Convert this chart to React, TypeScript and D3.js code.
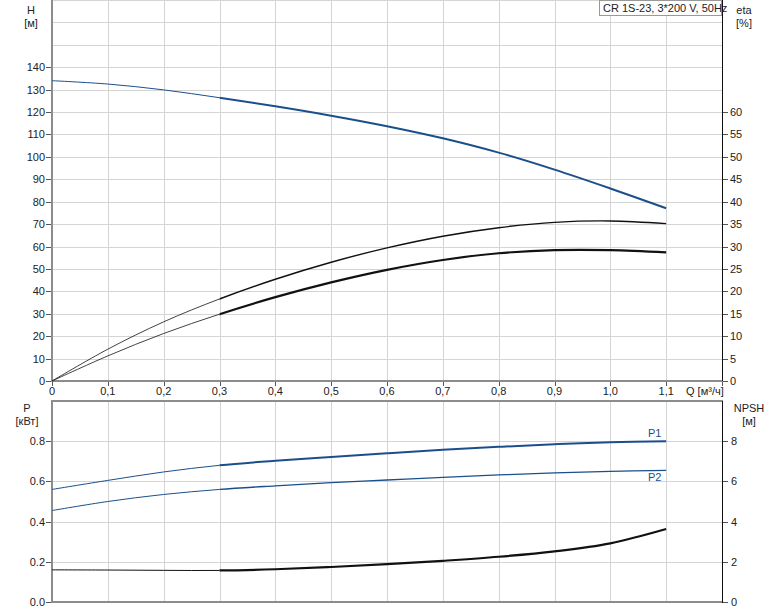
import React from 'react';
import * as d3 from 'd3';

// flow points (m³/h)
const qValues = [0, 0.1, 0.2, 0.3, 0.4, 0.5, 0.6, 0.7, 0.8, 0.9, 1.0, 1.1];
// head H [m]
const headValues = [134, 132.5, 129.9, 126.4, 122.6, 118.4, 113.7, 108.3, 101.9, 94.3, 85.9, 77.1];
// efficiencies [%]
const etaPumpValues = [0, 7.1, 13.2, 18.3, 22.7, 26.5, 29.7, 32.3, 34.2, 35.4, 35.7, 35.1];
const etaTotalValues = [0, 5.6, 10.6, 14.9, 18.7, 22.0, 24.8, 27.0, 28.5, 29.2, 29.2, 28.7];
// power [kW]
const p1Values = [0.56, 0.605, 0.647, 0.68, 0.703, 0.722, 0.74, 0.757, 0.772, 0.785, 0.795, 0.8];
const p2Values = [0.455, 0.5, 0.535, 0.56, 0.578, 0.594, 0.607, 0.62, 0.632, 0.642, 0.65, 0.655];
// NPSH [m]
const npshValues = [1.6, 1.59, 1.575, 1.57, 1.63, 1.74, 1.88, 2.05, 2.25, 2.52, 2.92, 3.63];

const xTicks = [0, 0.1, 0.2, 0.3, 0.4, 0.5, 0.6, 0.7, 0.8, 0.9, 1.0, 1.1];
const xTickLabels = ['0', '0,1', '0,2', '0,3', '0,4', '0,5', '0,6', '0,7', '0,8', '0,9', '1,0', '1,1'];
const hTicks = [0, 10, 20, 30, 40, 50, 60, 70, 80, 90, 100, 110, 120, 130, 140];
const hGrid = [10, 20, 30, 40, 50, 60, 70, 80, 90, 100, 110, 120, 130, 140, 150, 160, 170];
const etaTicks = [0, 5, 10, 15, 20, 25, 30, 35, 40, 45, 50, 55, 60];
const pTicks = [0, 0.2, 0.4, 0.6, 0.8];
const pTickLabels = ['0.0', '0.2', '0.4', '0.6', '0.8'];
const npshTicks = [0, 2, 4, 6, 8];

const BLUE = '#1b4f8b';
const FONT = '"Liberation Sans", Arial, sans-serif';
const Q_SPLIT = 0.3; // thin line left of this flow, thick line right of it

const x = d3.scaleLinear().domain([0, 1.2]).range([52, 722]);
const yH = d3.scaleLinear().domain([0, 170]).range([381, 0]);
const yEta = d3.scaleLinear().domain([0, 85]).range([381, 0]);
const yP = d3.scaleLinear().domain([0, 1.0]).range([602, 401]);
const yN = d3.scaleLinear().domain([0, 10]).range([602, 401]);

type Pt = [number, number];

function Curve({ vals, y, color, thin, thick }: { vals: number[]; y: d3.ScaleLinear<number, number>; color: string; thin: number; thick: number }) {
  const gen = d3.line<Pt>().x(d => x(d[0])).y(d => y(d[1])).curve(d3.curveCatmullRom.alpha(0.5));
  const d = gen(qValues.map((q, i) => [q, vals[i]] as Pt)) || '';
  return (
    <g fill="none" stroke={color} strokeLinejoin="round">
      <path d={d} strokeWidth={thin} clipPath="url(#clipLeft)" />
      <path d={d} strokeWidth={thick} clipPath="url(#clipRight)" />
    </g>
  );
}

export default function App() {
  const txt = { fontFamily: FONT, fontSize: 11, fill: '#222' } as const;
  const xs = x(Q_SPLIT);
  return (
    <svg width={774} height={611} style={{ position: 'absolute', left: 0, top: 0, background: '#fff' }}>
      <defs>
        <clipPath id="clipLeft"><rect x={0} y={0} width={xs} height={611} /></clipPath>
        <clipPath id="clipRight"><rect x={xs} y={0} width={774 - xs} height={611} /></clipPath>
      </defs>
      {/* ---- top panel grid ---- */}
      <g stroke="#d4d4d4" strokeWidth={1}>
        {hGrid.map(v => (
          <line key={'hg' + v} x1={52} x2={722} y1={Math.round(yH(v)) + 0.5} y2={Math.round(yH(v)) + 0.5} />
        ))}
        {xTicks.slice(1).concat([1.2]).map(v => (
          <line key={'vg' + v} x1={Math.round(x(v)) + 0.5} x2={Math.round(x(v)) + 0.5} y1={0} y2={381} />
        ))}
      </g>
      {/* ---- bottom panel grid ---- */}
      <g stroke="#d4d4d4" strokeWidth={1}>
        {pTicks.slice(1).map(v => (
          <line key={'pg' + v} x1={52} x2={722} y1={Math.round(yP(v)) + 0.5} y2={Math.round(yP(v)) + 0.5} />
        ))}
        {xTicks.slice(1).map(v => (
          <line key={'vg2' + v} x1={Math.round(x(v)) + 0.5} x2={Math.round(x(v)) + 0.5} y1={401} y2={602} />
        ))}
      </g>

      {/* ---- top axes ---- */}
      <line x1={52} x2={52} y1={0} y2={382} stroke="#8c8c8c" strokeWidth={2} />
      <line x1={51} x2={723} y1={381} y2={381} stroke="#8c8c8c" strokeWidth={2} />
      <line x1={722.5} x2={722.5} y1={0} y2={381} stroke="#111" strokeWidth={1} />
      {hTicks.map(v => (
        <g key={'ht' + v}>
          <line x1={46} x2={51} y1={Math.round(yH(v)) + 0.5} y2={Math.round(yH(v)) + 0.5} stroke="#555" />
          <text x={45} y={yH(v) + 4} textAnchor="end" {...txt}>{v}</text>
        </g>
      ))}
      {etaTicks.map(v => (
        <g key={'et' + v}>
          <line x1={723} x2={728} y1={Math.round(yEta(v)) + 0.5} y2={Math.round(yEta(v)) + 0.5} stroke="#555" />
          <text x={730} y={yEta(v) + 4} textAnchor="start" {...txt}>{v}</text>
        </g>
      ))}
      {xTicks.map((v, i) => (
        <g key={'xt' + v}>
          <line x1={Math.round(x(v)) + 0.5} x2={Math.round(x(v)) + 0.5} y1={382} y2={386} stroke="#555" />
          <text x={x(v)} y={395} textAnchor="middle" {...txt}>{xTickLabels[i]}</text>
        </g>
      ))}
      <line x1={722.5} x2={722.5} y1={382} y2={386} stroke="#555" />
      <text x={686} y={395} {...txt}>Q [м³/ч]</text>

      <text x={31} y={14} textAnchor="middle" {...txt}>H</text>
      <text x={31} y={27} textAnchor="middle" {...txt}>[м]</text>
      <text x={744} y={14} textAnchor="middle" {...txt}>eta</text>
      <text x={744} y={27} textAnchor="middle" {...txt}>[%]</text>

      {/* ---- bottom axes ---- */}
      <line x1={51} x2={723} y1={401} y2={401} stroke="#8c8c8c" strokeWidth={2} />
      <line x1={52} x2={52} y1={400} y2={603} stroke="#8c8c8c" strokeWidth={2} />
      <line x1={51} x2={723} y1={602} y2={602} stroke="#8c8c8c" strokeWidth={2} />
      <line x1={722.5} x2={722.5} y1={401} y2={603} stroke="#111" strokeWidth={1} />
      {pTicks.map((v, i) => (
        <g key={'pt' + v}>
          <line x1={46} x2={51} y1={Math.round(yP(v)) + 0.5} y2={Math.round(yP(v)) + 0.5} stroke="#555" />
          <text x={45} y={yP(v) + 4} textAnchor="end" {...txt}>{pTickLabels[i]}</text>
        </g>
      ))}
      {npshTicks.map(v => (
        <g key={'nt' + v}>
          <line x1={723} x2={728} y1={Math.round(yN(v)) + 0.5} y2={Math.round(yN(v)) + 0.5} stroke="#555" />
          <text x={731} y={yN(v) + 4} textAnchor="start" {...txt}>{v}</text>
        </g>
      ))}
      <text x={27} y={412} textAnchor="middle" {...txt}>P</text>
      <text x={27} y={425} textAnchor="middle" {...txt}>[кВт]</text>
      <text x={749} y={412} textAnchor="middle" {...txt}>NPSH</text>
      <text x={749} y={425} textAnchor="middle" {...txt}>[м]</text>

      {/* ---- curves ---- */}
      <Curve vals={headValues} y={yH} color={BLUE} thin={1} thick={2} />
      <Curve vals={etaPumpValues} y={yEta} color="#111" thin={0.8} thick={1.4} />
      <Curve vals={etaTotalValues} y={yEta} color="#111" thin={0.8} thick={2.2} />
      <Curve vals={p1Values} y={yP} color={BLUE} thin={1} thick={2} />
      <Curve vals={p2Values} y={yP} color={BLUE} thin={1} thick={1.3} />
      <Curve vals={npshValues} y={yN} color="#111" thin={1} thick={2.2} />
      <text x={648} y={437} fill={BLUE} fontFamily={FONT} fontSize={11}>P1</text>
      <text x={648} y={481} fill={BLUE} fontFamily={FONT} fontSize={11}>P2</text>

      {/* ---- legend box ---- */}
      <rect x={599.5} y={0.5} width={122} height={15} fill="#fff" stroke="#999" />
      <text x={603} y={12} {...txt}>CR 1S-23, 3*200 V, 50Hz</text>
    </svg>
  );
}
